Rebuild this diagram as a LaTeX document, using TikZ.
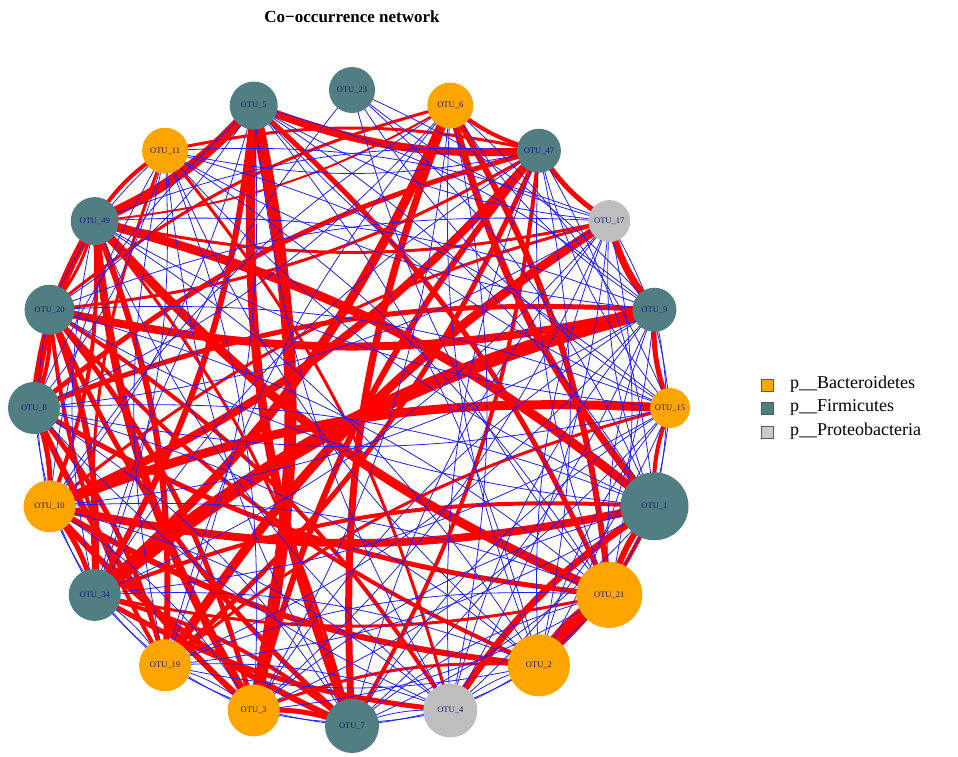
\documentclass[tikz,border=0pt]{standalone}
\usepackage{fontspec}
\setmainfont{Liberation Serif}
\usetikzlibrary{backgrounds}
\definecolor{bact}{RGB}{255,165,0}
\definecolor{firm}{RGB}{80,126,130}
\definecolor{prot}{RGB}{190,190,190}
\definecolor{labc}{RGB}{20,30,120}
\definecolor{redc}{RGB}{255,0,0}
\definecolor{bluec}{RGB}{30,30,255}
\begin{document}
\begin{tikzpicture}[x=1pt,y=-1pt,
  otu/.style={circle, inner sep=0pt, text=labc, font=\fontsize{8.5}{8.5}\selectfont},
  redge/.style={draw=redc, line cap=butt},
  bedge/.style={draw=bluec, line width=0.8pt},
  legbox/.style={draw=gray!70!black, line width=0.6pt, minimum size=12pt, inner sep=0pt},
  legtext/.style={anchor=west, font=\fontsize{18}{18}\selectfont, inner sep=0pt}]
\useasboundingbox (0,0) rectangle (958,756);
% title
\node[font=\bfseries\fontsize{17}{17}\selectfont] (title) at (352,17) {Co−occurrence network};
% nodes
\foreach \i/\lab/\r/\c in {
  0/OTU\_23/23/firm, 1/OTU\_6/23/bact, 2/OTU\_47/22/firm, 3/OTU\_17/21/prot,
  4/OTU\_9/22/firm, 5/OTU\_15/20/bact, 6/OTU\_1/34/firm, 7/OTU\_21/33/bact,
  8/OTU\_2/31/bact, 9/OTU\_4/27/prot, 10/OTU\_7/27/firm, 11/OTU\_3/26/bact,
  12/OTU\_19/26/bact, 13/OTU\_34/26/firm, 14/OTU\_10/26/bact, 15/OTU\_8/26/firm,
  16/OTU\_20/25/firm, 17/OTU\_49/24/firm, 18/OTU\_11/23/bact, 19/OTU\_5/24/firm}{
  \pgfmathsetmacro\ang{90-18*\i}
  \node[otu, fill=\c, minimum size=2*\r] (n\i) at ({352+318*cos(\ang)},{408-318*sin(\ang)}) {\lab};
}
\begin{pgfonlayer}{background}
% red edges
\foreach \a/\b/\w in {
  19/11/12, 19/10/9, 19/17/10, 19/2/8, 19/13/6, 19/7/5, 18/2/3,
  1/10/7, 1/13/9, 1/6/7, 1/7/6, 1/2/4, 1/16/3, 1/17/2,
  2/14/8, 2/11/6, 2/12/5, 2/10/4, 2/15/5, 2/3/5, 2/16/3,
  3/12/9, 3/4/7, 3/17/3, 3/14/3,
  4/13/14, 4/16/8, 4/5/5, 4/15/5,
  5/14/9, 5/6/4, 5/12/3,
  6/14/8, 6/9/7, 6/7/6, 6/17/9, 6/13/4, 6/8/4,
  7/8/14, 7/17/9, 7/15/5, 7/13/3,
  8/14/6, 8/16/4, 8/11/3,
  9/13/5, 9/16/4, 9/18/3,
  10/11/5, 10/14/6, 10/16/5, 10/13/4, 10/17/3,
  11/17/8, 11/15/6, 11/16/5,
  12/15/5, 12/16/4, 12/17/6,
  13/16/6, 13/14/5, 14/15/5, 14/17/4,
  15/16/4, 15/17/8, 16/17/3, 18/17/4, 18/13/3}{
  \pgfmathtruncatemacro\eparity{mod(\a+\b,2)}
  \ifnum\eparity=0
    \draw[redge, line width=\w pt] (n\a.center) to[bend left=12] (n\b.center);
  \else
    \draw[redge, line width=\w pt] (n\a.center) to[bend right=12] (n\b.center);
  \fi
}
% blue edges
\foreach \a/\b in {
  0/13, 0/4, 0/5, 0/6, 0/7, 0/3,
  1/4, 1/5, 1/8, 1/9, 1/11, 1/12, 1/14, 1/15,
  2/5, 2/6, 2/7, 2/8, 2/9, 2/13, 2/17, 2/18,
  3/5, 3/6, 3/7, 3/8, 3/9, 3/10, 3/11, 3/13, 3/15, 3/16, 3/18, 3/19,
  4/6, 4/7, 4/8, 4/9, 4/10, 4/11, 4/12, 4/14, 4/17, 4/18, 4/19,
  5/7, 5/8, 5/9, 5/10, 5/11, 5/13, 5/15, 5/16, 5/17, 5/18, 5/19,
  6/10, 6/11, 6/12, 6/15, 6/16, 6/18, 6/19,
  7/9, 7/10, 7/11, 7/12, 7/14, 7/16, 7/18,
  8/9, 8/10, 8/12, 8/13, 8/15, 8/17, 8/18, 8/19,
  9/10, 9/11, 9/12, 9/14, 9/15, 9/17, 9/19,
  10/12, 10/15, 10/18,
  11/12, 11/13, 11/14, 11/18,
  12/13, 12/14, 12/18, 12/19,
  13/15, 13/17, 13/18,
  14/16, 14/18, 14/19,
  15/18, 15/19, 16/18, 16/19}{
  \pgfmathtruncatemacro\eparity{mod(\a+\b,2)}
  \ifnum\eparity=0
    \draw[bedge] (n\a.center) to[bend left=12] (n\b.center);
  \else
    \draw[bedge] (n\a.center) to[bend right=12] (n\b.center);
  \fi
}
\end{pgfonlayer}
% legend
\node[legbox, fill=bact] (l1) at (767,385) {};
\node[legbox, fill=firm] (l2) at (767,408.5) {};
\node[legbox, fill=prot!80!white] (l3) at (767,432) {};
\node[legtext] (t1) at (790,384) {p\_\_Bacteroidetes};
\node[legtext] (t2) at (790,407.5) {p\_\_Firmicutes};
\node[legtext] (t3) at (790,431) {p\_\_Proteobacteria};
\end{tikzpicture}
\end{document}
